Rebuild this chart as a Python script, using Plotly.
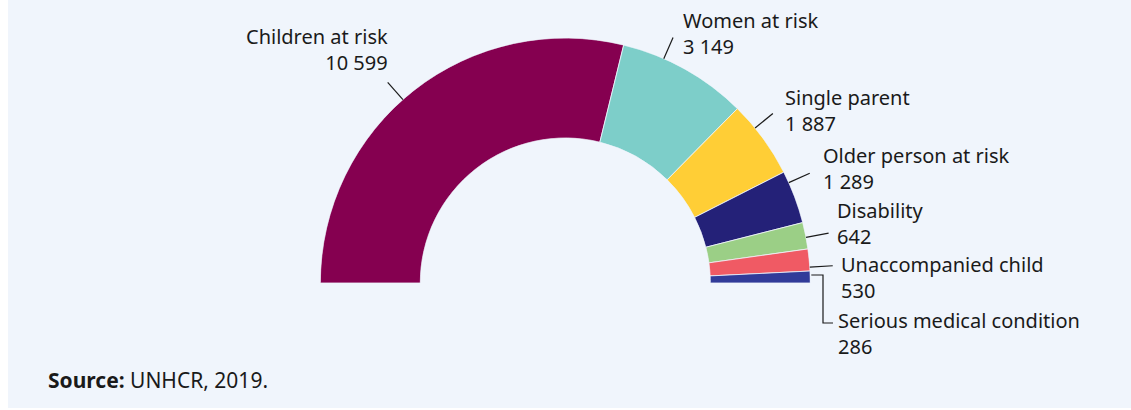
import math
import plotly.graph_objects as go

# ---- data ----
categories = ["Children at risk", "Women at risk", "Single parent", "Older person at risk",
              "Disability", "Unaccompanied child", "Serious medical condition"]
values = [10599, 3149, 1887, 1289, 642, 530, 286]
value_labels = ["10 599", "3 149", "1 887", "1 289", "642", "530", "286"]
colors = ["#850050", "#7DCEC9", "#FFCE36", "#242178", "#9BCF86", "#F05A64", "#313B99"]

# ---- layout / style ----
W, H = 1131, 410
BG = "#F0F5FC"
FONT = "Noto Sans"
TXT = "#1A1A1A"
cx, cy = 565.3, 283.0          # centre of semicircle (px)
R_OUT, R_IN = 245.0, 145.0
LEAD = 23.0
# small angular nudges of the leader lines (deg) and label offsets (px)
nudge = [3.4, 5.5, 3.1, 3.6, -0.4, -1.7, 0.0]
label_dx = [2, 8, 10, 11, 6, 6, 3]
label_dy = [-45.5, -16, -15, -17, -21.5, -1, -2]
label_align = ["right", "left", "left", "left", "left", "left", "left"]
LINE_GAP = 24.7

total = sum(values)
spans = [v / total * 180.0 for v in values]
mids, acc = [], 0.0
for s in spans:
    mids.append(acc + s / 2)
    acc += s

def px(x):
    return x / W

def py(y):
    return 1 - y / H

fig = go.Figure()
fig.add_trace(go.Barpolar(
    r=[1] * len(values),
    theta=mids,
    width=spans,
    marker=dict(color=colors, line=dict(color=BG, width=0.8)),
    text=categories,
    hoverinfo="text",
    showlegend=False,
))

shapes = [dict(type="rect", xref="paper", yref="paper", x0=px(8), x1=1, y0=py(408), y1=1,
               fillcolor=BG, line=dict(width=0), layer="below")]
annotations = []

for i, (name, vl) in enumerate(zip(categories, value_labels)):
    ang = 180.0 - mids[i] + nudge[i]
    a = math.radians(ang)
    x0, y0 = cx + R_OUT * math.cos(a), cy - R_OUT * math.sin(a)
    if i == len(categories) - 1:
        y0 = 275.0
        x0 = cx + R_OUT + 1
        xe, ye = 823.0, 323.0
        path = f"M {px(x0)},{py(y0)} L {px(xe)},{py(y0)} L {px(xe)},{py(ye)} L {px(xe+10)},{py(ye)}"
        shapes.append(dict(type="path", xref="paper", yref="paper", path=path,
                           line=dict(color=TXT, width=1.2)))
        x1, y1 = xe + 10, ye
    else:
        x1, y1 = cx + (R_OUT + LEAD) * math.cos(a), cy - (R_OUT + LEAD) * math.sin(a)
        shapes.append(dict(type="line", xref="paper", yref="paper",
                           x0=px(x0), y0=py(y0), x1=px(x1), y1=py(y1),
                           line=dict(color=TXT, width=1.2)))
    lx = x1 + label_dx[i]
    ly = y1 + label_dy[i] + LINE_GAP / 2
    annotations.append(dict(
        x=px(lx), y=py(ly), xref="paper", yref="paper",
        text=f"{name}<br>{vl}", showarrow=False, xanchor=label_align[i], yanchor="middle",
        align=label_align[i], font=dict(family=FONT, size=20, color=TXT)))

annotations.append(dict(
    x=px(46), y=py(380), xref="paper", yref="paper",
    text="<b>Source:</b> UNHCR, 2019.", showarrow=False, xanchor="left", yanchor="middle",
    font=dict(family=FONT, size=21, color=TXT)))

fig.update_layout(
    width=W, height=H,
    margin=dict(l=0, r=0, t=0, b=0),
    paper_bgcolor="white",
    plot_bgcolor="rgba(0,0,0,0)",
    font=dict(family=FONT, color=TXT),
    shapes=shapes,
    annotations=annotations,
    polar=dict(
        domain=dict(x=[px(cx - R_OUT), px(cx + R_OUT)], y=[py(cy), py(cy - R_OUT)]),
        sector=[0, 180],
        hole=R_IN / R_OUT,
        bgcolor="rgba(0,0,0,0)",
        radialaxis=dict(visible=False, range=[0, 1]),
        angularaxis=dict(visible=False, rotation=180, direction="clockwise"),
        bargap=0,
    ),
)

fig.write_html("out.html", config={"displayModeBar": False},
               post_script="document.body.style.margin='0px';document.body.style.overflow='hidden';")
